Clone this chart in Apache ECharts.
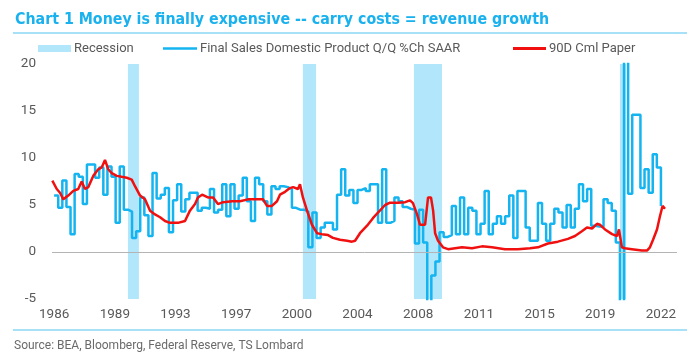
<!DOCTYPE html>
<html>
<head>
<meta charset="utf-8">
<script src="https://cdn.jsdelivr.net/npm/echarts@6/dist/echarts.min.js"></script>
<style>
html,body{margin:0;padding:0;background:#fff;}
#chart{width:687px;height:363px;}
</style>
</head>
<body>
<div id="chart"></div>
<script>
// ---- data ----
const titleText = 'Chart 1 Money is finally expensive -- carry costs = revenue growth';
const sourceText = 'Source: BEA, Bloomberg, Federal Reserve, TS Lombard';
const seriesNames = ['Recession', 'Final Sales Domestic Product Q/Q %Ch SAAR', '90D Cml Paper'];

const tickLabels = ['1986','1989','1993','1997','2000','2004','2008','2011','2015','2019','2022'];
const tickPositions = [1986.0, 1989.7, 1993.4, 1997.1, 2000.8, 2004.5, 2008.2, 2011.9, 2015.6, 2019.3, 2023.0];
const xRange = [1985.87, 2023.98];
const yRange = [-5, 20];
const yStep = 5;

const recessionStart = [1990.50, 2001.17, 2007.94, 2020.50];
const recessionEnd   = [1991.17, 2001.97, 2009.65, 2020.87];

// quarterly final sales growth, first quarter plotted at 1986.0
const salesFirstDate = 1986.0;
const salesValues = [
  6.0, 4.7, 7.6, 4.8, 1.9, 8.3, 8.0, 5.1, 9.3, 9.3,
  7.9, 9.0, 6.1, 9.1, 8.0, 3.1, 9.1, 4.5, 4.3, 1.5,
  2.2, 5.8, 3.9, 1.7, 8.4, 5.7, 6.1, 6.8, 2.1, 5.5,
  7.2, 4.3, 5.6, 6.3, 6.3, 4.4, 4.7, 4.6, 6.7, 4.2,
  4.5, 7.2, 3.8, 7.2, 4.6, 6.0, 7.9, 5.4, 3.3, 7.9,
  7.2, 5.4, 4.0, 7.0, 6.7, 7.0, 6.9, 6.7, 4.7, 4.5,
  4.5, 4.3, 0.5, 4.2, 1.5, 2.6, 3.1, 3.1, 2.4, 6.1,
  8.8, 6.0, 6.6, 5.2, 6.6, 6.8, 6.5, 7.2, 7.2, 3.1,
  8.8, 3.1, 3.3, 5.8, 5.4, 4.8, 4.6, 4.5, 0.9, 4.5,
  1.0, -8.0, -2.5, -1.0, 2.1, 1.6, 1.8, 4.9, 1.9, 5.8,
  1.9, 4.7, 4.4, 1.9, 3.0, 6.5, 1.9, 3.0, 3.8, 3.0,
  3.8, 6.0, 1.5, 6.5, 6.5, 2.6, 1.2, 1.2, 5.2, 3.0,
  1.2, 3.0, 4.6, 4.2, 2.6, 5.0, 2.6, 4.6, 7.2, 5.4,
  6.7, 2.8, 2.7, 2.7, 5.6, 5.2, 4.4, 1.0, -30.0, 33.0,
  6.2, 14.6, 14.6, 6.8, 8.8, 6.3, 10.4, 9.0, 4.9
];

const cpDates = [1985.89,1986.16,1986.36,1986.56,1986.86,1987.17,1987.47,1987.68,1987.88,1988.08,
  1988.39,1988.69,1988.9,1989.1,1989.3,1989.51,1989.82,1990.12,1990.43,1990.73,
  1990.93,1991.24,1991.54,1991.85,1992.15,1992.46,1992.76,1993.07,1993.55,1993.98,
  1994.28,1994.59,1994.77,1995.02,1995.38,1995.69,1995.99,1996.3,1996.85,1997.33,
  1997.82,1998.37,1998.74,1998.98,1999.28,1999.59,1999.77,2000.08,2000.38,2000.57,
  2000.87,2000.99,2001.17,2001.42,2001.72,2002.03,2002.33,2002.7,2003.0,2003.43,
  2003.86,2004.16,2004.35,2004.65,2005.08,2005.44,2005.75,2006.18,2006.48,2006.97,
  2007.4,2007.7,2007.88,2008.13,2008.31,2008.62,2008.8,2008.98,2009.11,2009.23,
  2009.41,2009.71,2010.02,2010.87,2011.48,2012.09,2012.7,2013.49,2014.28,2015.02,
  2015.5,2016.11,2016.72,2017.33,2017.76,2018.18,2018.49,2018.8,2019.1,2019.28,
  2019.59,2020.02,2020.32,2020.44,2020.62,2020.8,2021.23,2021.84,2022.15,2022.33,
  2022.52,2022.76,2022.94,2023.1,2023.25];
const cpValues = [7.6,6.7,6.3,5.6,6.0,6.5,6.7,7.5,6.7,6.9,
  8.1,8.8,9.0,9.8,8.8,8.4,8.1,8.0,7.9,7.7,
  7.0,6.0,5.6,4.4,4.0,3.7,3.3,3.1,3.1,3.3,
  4.4,5.1,5.8,6.1,5.8,5.8,5.1,5.3,5.4,5.4,
  5.6,5.6,5.6,4.9,4.9,5.4,6.1,6.4,6.8,6.9,
  6.7,7.2,5.8,4.4,2.9,2.0,1.9,1.8,1.5,1.3,
  1.2,1.1,1.2,2.0,2.8,3.6,4.2,5.0,5.25,5.25,
  5.3,5.5,5.2,4.0,2.9,2.9,5.8,5.8,4.4,2.0,
  1.2,0.5,0.3,0.5,0.4,0.6,0.5,0.3,0.3,0.4,
  0.5,0.9,1.1,1.4,1.7,2.2,2.6,2.5,3.0,2.9,
  2.4,1.9,1.7,2.4,0.5,0.4,0.3,0.15,0.15,0.5,
  1.3,2.4,3.8,4.9,4.6];

// ---- build ----
const salesData = salesValues.map((v, i) => [salesFirstDate + i / 4, v]);
const cpData = cpDates.map((d, i) => [d, cpValues[i]]);
const recessionData = recessionStart.map((s, i) => [s, recessionEnd[i]]);

const BLUE = '#14b4f0';
const BAND = '#b2e6fb';
const RED = '#f01010';
const GREY = '#595959';
const legendText = { fontFamily: 'Roboto', fontSize: 13, color: GREY, padding: [0, 0, 0, -2] };

const chart = echarts.init(document.getElementById('chart'));
chart.setOption({
  animation: false,
  backgroundColor: '#ffffff',
  title: {
    text: titleText,
    left: 10, top: 7,
    textStyle: {
      fontFamily: "'Liberation Sans Narrow', 'DejaVu Sans Condensed', Roboto, sans-serif",
      fontWeight: 'bold', fontSize: 15.8, color: '#19b1ee'
    }
  },
  graphic: [
    { type: 'line', shape: { x1: 13, y1: 33, x2: 687, y2: 33 }, style: { stroke: '#a6e1f8', lineWidth: 2 } },
    { type: 'line', shape: { x1: 13, y1: 330, x2: 687, y2: 330 }, style: { stroke: '#a6e1f8', lineWidth: 2 } },
    { type: 'text', left: 14, top: 340, style: { text: sourceText, font: '12px Roboto', fill: '#6a6a6a' } }
  ],
  legend: [
    {
      left: 33, top: 37,
      itemWidth: 33, itemHeight: 7,
      textStyle: legendText,
      data: [{ name: seriesNames[0], icon: 'rect' }]
    },
    {
      left: 158, top: 37,
      itemWidth: 34, itemHeight: 2.6,
      textStyle: legendText,
      data: [{ name: seriesNames[1], icon: 'rect' }]
    },
    {
      left: 508, top: 37,
      itemWidth: 33, itemHeight: 3,
      textStyle: legendText,
      data: [{ name: seriesNames[2], icon: 'rect' }]
    }
  ],
  grid: { left: 52, right: 10, top: 64, bottom: 64 },
  xAxis: {
    type: 'value',
    min: xRange[0], max: xRange[1],
    axisLine: { show: false },
    axisTick: { show: false },
    splitLine: { show: false },
    axisLabel: {
      customValues: tickPositions,
      margin: 9,
      fontFamily: 'Roboto', fontSize: 13.5, color: GREY,
      formatter: function (v) {
        let best = 0, bd = Infinity;
        tickPositions.forEach((p, i) => { const d = Math.abs(p - v); if (d < bd) { bd = d; best = i; } });
        return tickLabels[best];
      }
    }
  },
  yAxis: {
    type: 'value',
    min: yRange[0], max: yRange[1], interval: yStep,
    axisLine: { show: false },
    axisTick: { show: false },
    splitLine: { show: false },
    axisLabel: { margin: 16, fontFamily: 'Roboto', fontSize: 13.5, color: GREY }
  },
  series: [
    {
      name: seriesNames[0],
      type: 'custom',
      itemStyle: { color: BAND },
      encode: { x: [0, 1] },
      data: recessionData,
      z: 1,
      renderItem: function (params, api) {
        const a = api.coord([api.value(0), yRange[1]]);
        const b = api.coord([api.value(1), yRange[0]]);
        return { type: 'rect', shape: { x: a[0], y: a[1], width: b[0] - a[0], height: b[1] - a[1] }, style: { fill: BAND } };
      }
    },
    {
      name: seriesNames[1],
      type: 'line',
      step: 'end',
      symbol: 'none',
      data: salesData,
      z: 3,
      lineStyle: { color: BLUE, width: 2.5 },
      itemStyle: { color: BLUE },
      markLine: {
        silent: true, symbol: 'none', label: { show: false },
        lineStyle: { color: '#b4b4b4', width: 1, type: 'solid' },
        data: [{ yAxis: 0 }]
      }
    },
    {
      name: seriesNames[2],
      type: 'line',
      symbol: 'none',
      data: cpData,
      z: 4,
      lineStyle: { color: RED, width: 2.5 },
      itemStyle: { color: RED }
    }
  ]
});
</script>
</body>
</html>
